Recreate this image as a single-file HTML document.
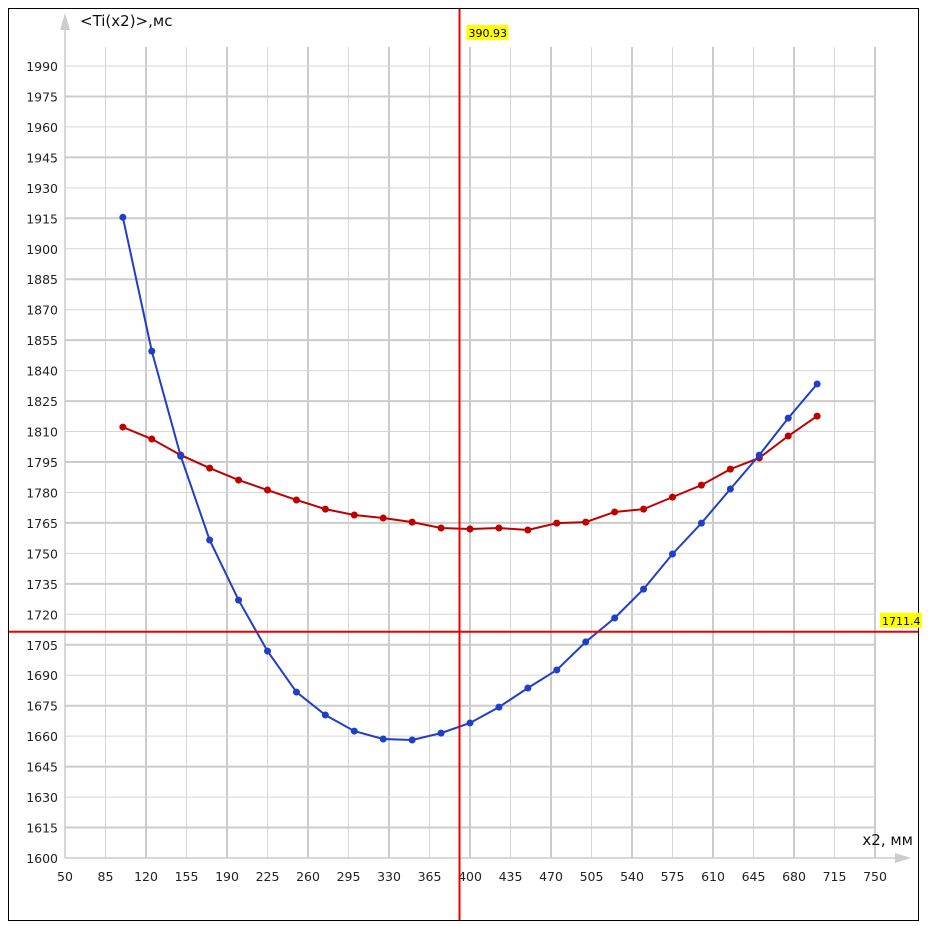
<!DOCTYPE html>
<html><head><meta charset="utf-8"><style>
html,body{margin:0;padding:0;background:#fff;}
svg{display:block;font-family:"DejaVu Sans","Liberation Sans",sans-serif;}
</style></head><body>
<svg id="chart" width="928" height="926">
<rect x="8.5" y="8.5" width="910" height="912" fill="#fff" stroke="#000" stroke-width="1"/>
<g id="grid"></g><g id="axes"></g><g id="series"></g><g id="cross"></g>
</svg>
<script>
const xTicks=[50,85,120,155,190,225,260,295,330,365,400,435,470,505,540,575,610,645,680,715,750];
const yTicks=[1600,1615,1630,1645,1660,1675,1690,1705,1720,1735,1750,1765,1780,1795,1810,1825,1840,1855,1870,1885,1900,1915,1930,1945,1960,1975,1990];
const xValues=[100,125,150,175,200,225,250,275,300,325,350,375,400,425,450,475,500,525,550,575,600,625,650,675,700];
const blueValues=[1915.5,1849.6,1797.9,1756.6,1727,1701.9,1681.7,1670.4,1662.5,1658.6,1658.1,1661.5,1666.5,1674.3,1683.7,1692.6,1706.4,1718.2,1732.4,1749.7,1764.9,1781.7,1798.4,1816.6,1833.4];
const redValues=[1812.2,1806.3,1798.4,1792,1786.1,1781.2,1776.3,1771.8,1768.9,1767.4,1765.4,1762.5,1762,1762.5,1761.5,1764.9,1765.4,1770.4,1771.8,1777.7,1783.6,1791.5,1797,1807.8,1817.6];
const crossX=390.93, crossY=1711.4;
const NS="http://www.w3.org/2000/svg";
const X=v=>65+(v-50)*(810/700);
const Y=v=>858-(v-1600)*(792/390);
function mk(tag,attrs,parent,text){const e=document.createElementNS(NS,tag);for(const k in attrs)e.setAttribute(k,attrs[k]);if(text!==undefined)e.textContent=text;document.getElementById(parent).appendChild(e);return e;}
// grid
xTicks.forEach((v,i)=>{if(i===0)return;const major=i%2===0;
 const e=mk('line',{x1:X(v),x2:X(v),y1:47,y2:858,stroke:major?'#ccc':'#d6d6d6','stroke-width':major?2:1},'grid');
 });
yTicks.forEach((v,i)=>{if(i===0)return;const major=i%2===1;
 const e=mk('line',{x1:65,x2:875,y1:Y(v),y2:Y(v),stroke:major?'#ccc':'#d6d6d6','stroke-width':major?2:1},'grid');
 });
// axes
let a=mk('line',{x1:65,x2:900,y1:858,y2:858,stroke:'#ccc','stroke-width':1.5},'axes');
a=mk('polygon',{points:'895,853 911,858 895,863',fill:'#ccc'},'axes');
a=mk('line',{x1:65,x2:65,y1:858,y2:28,stroke:'#ccc','stroke-width':1.5},'axes');
a=mk('polygon',{points:'60,30 65,13 70,30',fill:'#ccc'},'axes');
xTicks.forEach(v=>{const t=mk('text',{x:X(v),y:881,'text-anchor':'middle','font-size':12.5,fill:'#222'},'axes',String(v));});
yTicks.forEach(v=>{const t=mk('text',{x:58,y:Y(v)+5,'text-anchor':'end','font-size':12.5,fill:'#222'},'axes',String(v));});
a=mk('text',{x:80,y:26,'font-size':15,fill:'#111'},'axes','<Ti(x2)>,мс');
a=mk('text',{x:913,y:845,'text-anchor':'end','font-size':15,fill:'#111'},'axes','x2, мм');
// series
function series(vals,color,name){
 const p=mk('polyline',{points:xValues.map((x,i)=>X(x)+','+Y(vals[i])).join(' '),fill:'none',stroke:color,'stroke-width':2},'series');
 
 xValues.forEach((x,i)=>{const c=mk('circle',{cx:X(x),cy:Y(vals[i]),r:3.5,fill:color},'series');
  });
}
series(redValues,'#c00000','red-series');
series(blueValues,'#1f3fc8','blue-series');
// crosshair
a=mk('line',{x1:X(crossX),x2:X(crossX),y1:9,y2:920,stroke:'#e00','stroke-width':2},'cross');
a=mk('line',{x1:9,x2:918,y1:Y(crossY),y2:Y(crossY),stroke:'#e00','stroke-width':2},'cross');
a=mk('rect',{x:X(crossX)+7,y:25,width:42,height:15,fill:'#ff0'},'cross');
a=mk('text',{x:X(crossX)+9,y:37,'font-size':11,fill:'#000'},'cross',crossX.toFixed(2));
a=mk('rect',{x:880,y:Y(crossY)-19,width:42,height:15,fill:'#ff0'},'cross');
a=mk('text',{x:882,y:Y(crossY)-7,'font-size':11,fill:'#000'},'cross',String(crossY));
</script>
</body></html>
